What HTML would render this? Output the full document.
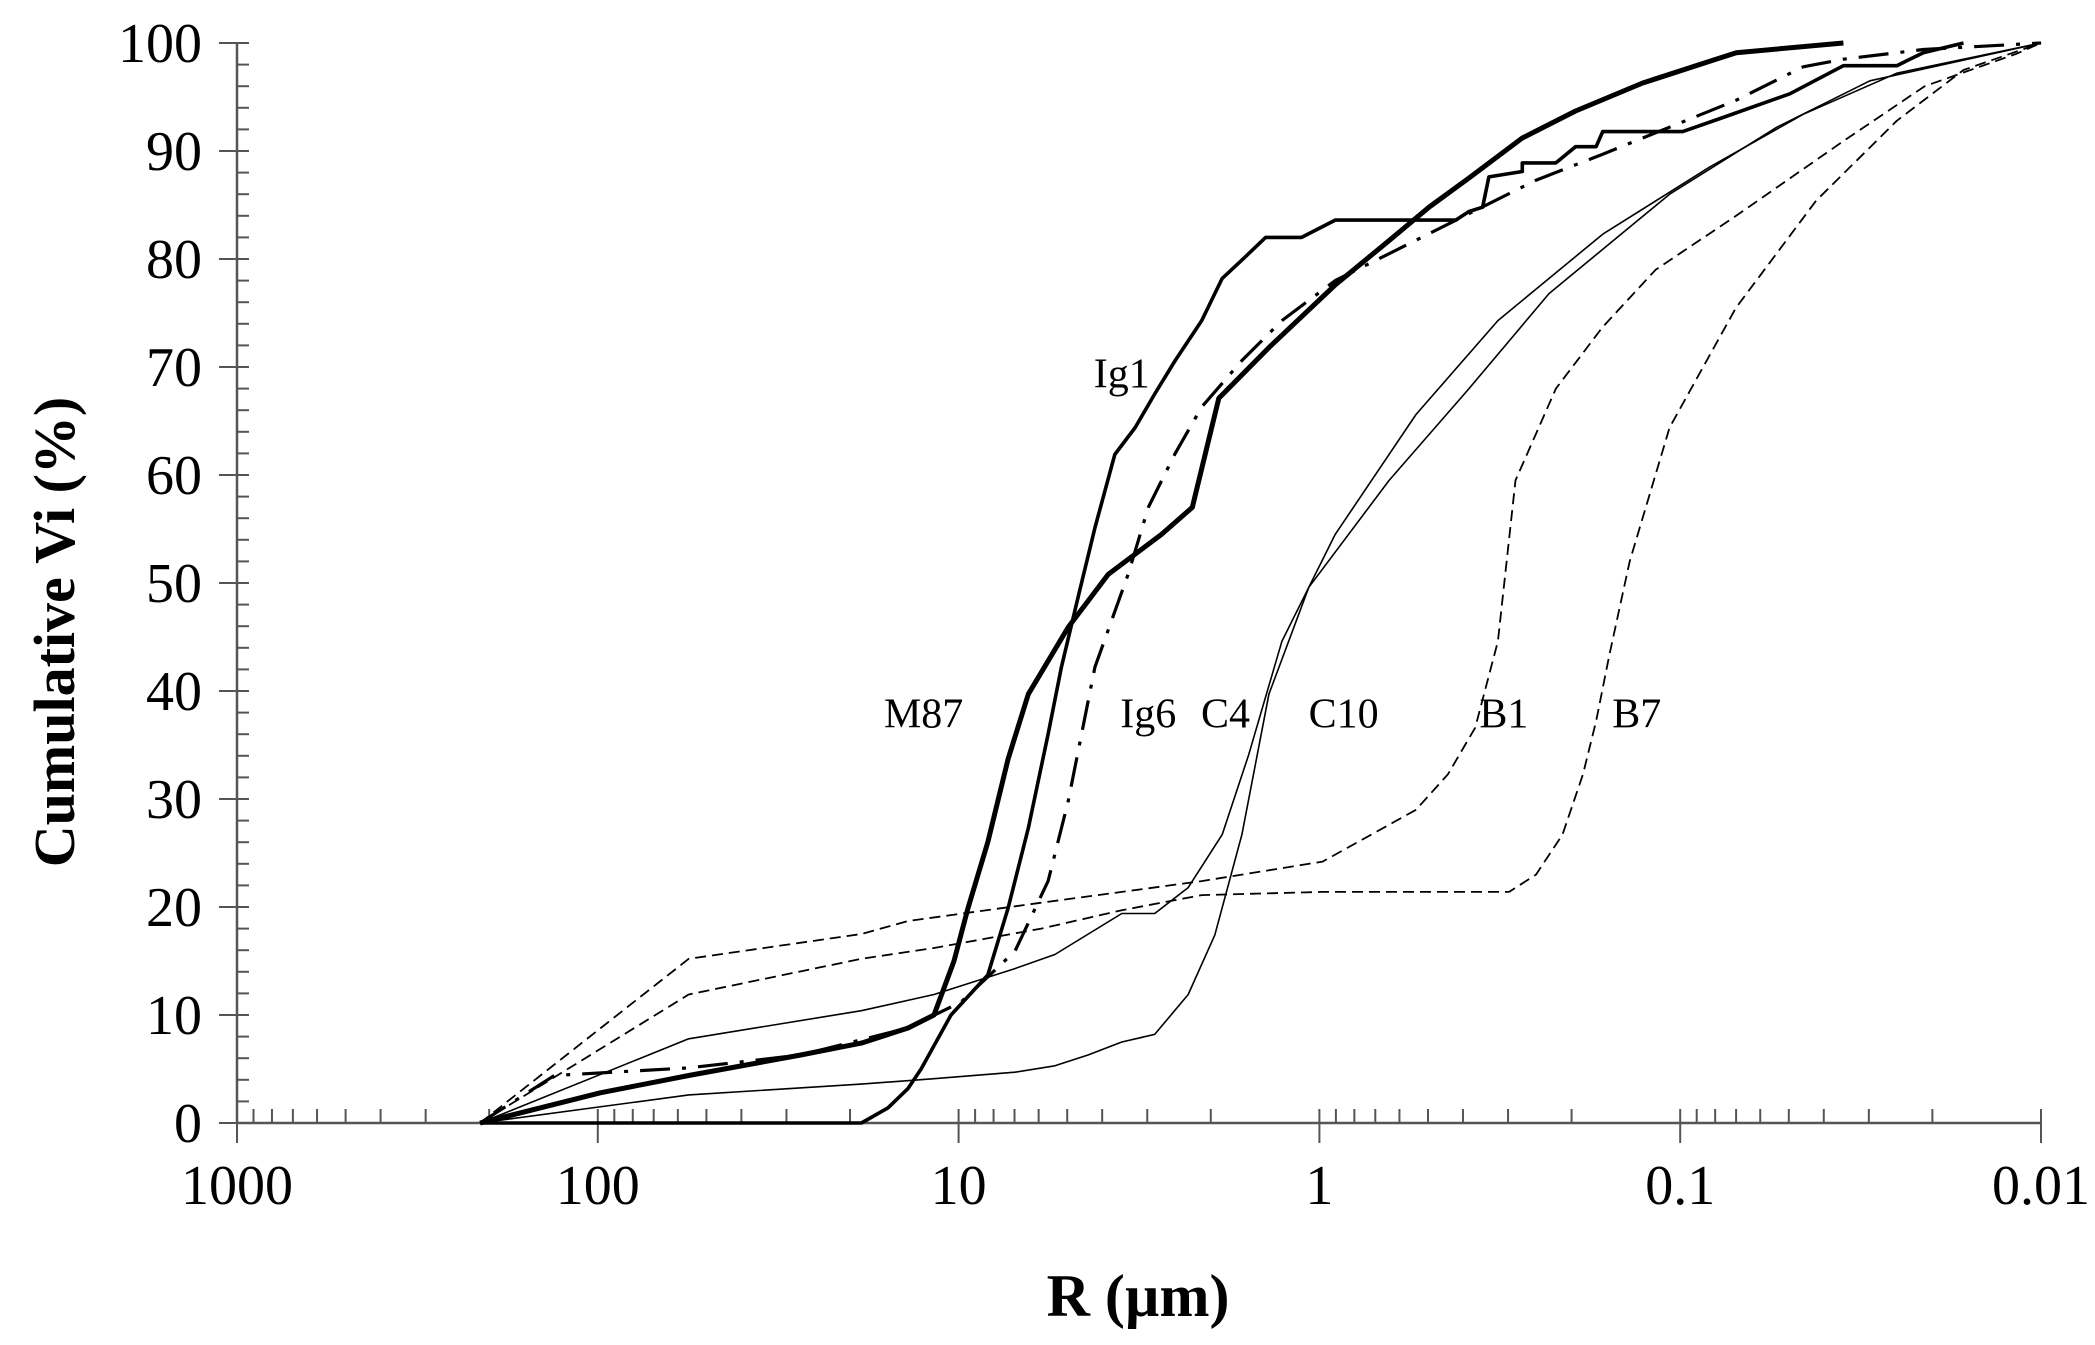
<!DOCTYPE html>
<html><head><meta charset="utf-8"><style>
html,body{margin:0;padding:0;background:#fff;}
svg{display:block;font-family:"Liberation Serif","DejaVu Serif",serif;}
</style></head><body>
<svg id="chart" width="2095" height="1345" viewBox="0 0 2095 1345" xmlns="http://www.w3.org/2000/svg">
<g id="axes"></g>
<g id="series"></g>
<g id="labels"></g>
<text x="1138" y="1316" font-size="60" font-weight="bold" text-anchor="middle">R (µm)</text>
<text transform="translate(74,632) rotate(-90)" font-size="58" font-weight="bold" text-anchor="middle">Cumulative Vi  (%)</text>
</svg>
<script>
const xTicks = [1000, 100, 10, 1, 0.1, 0.01];
const xTickLabels = ["1000", "100", "10", "1", "0.1", "0.01"];
const yTicks = [0, 10, 20, 30, 40, 50, 60, 70, 80, 90, 100];

const b1R = [212, 56, 18.6, 13.8, 5.9, 3.53, 2.12, 0.98, 0.54, 0.44, 0.37, 0.32, 0.286, 0.221, 0.164, 0.117, 0.070, 0.035, 0.021, 0.0117, 0.01];
const b1V = [0, 15.2, 17.5, 18.7, 20.4, 21.4, 22.4, 24.2, 29, 32.3, 36.6, 44.6, 59.5, 68, 73.7, 79, 84, 91, 96, 99, 100];

const b7R = [212, 56, 18.6, 11.7, 5.9, 3.53, 2.12, 0.98, 0.298, 0.251, 0.212, 0.186, 0.171, 0.157, 0.138, 0.107, 0.070, 0.042, 0.0251, 0.0164, 0.01];
const b7V = [0, 11.9, 15.2, 16.2, 18, 19.7, 21.1, 21.4, 21.4, 23, 26.7, 32.3, 37.2, 43.4, 52, 64.4, 75.5, 85.4, 92.8, 97.5, 100];

const c4R = [212, 56, 18.6, 11.7, 6.98, 5.41, 3.53, 2.86, 2.31, 1.86, 1.57, 1.27, 0.904, 0.54, 0.32, 0.164, 0.083, 0.0456, 0.0251, 0.01];
const c4V = [0, 7.8, 10.4, 11.9, 14.3, 15.6, 19.4, 19.4, 21.8, 26.7, 34.1, 44.6, 54.5, 65.6, 74.3, 82.3, 88.5, 93.4, 97.2, 100];

const c10R = [212, 56, 18.6, 11.7, 6.98, 5.41, 4.38, 3.53, 2.86, 2.31, 1.95, 1.64, 1.38, 1.07, 0.641, 0.385, 0.231, 0.107, 0.054, 0.0298, 0.01];
const c10V = [0, 2.6, 3.6, 4.1, 4.7, 5.3, 6.3, 7.5, 8.2, 11.9, 17.4, 26.7, 39.7, 49.6, 59.5, 68, 76.8, 86, 92.2, 96.5, 100];

const ig1R = [212, 18.6, 15.7, 13.8, 12.7, 10.5, 8.30, 7.29, 6.41, 5.65, 5.19, 4.64, 4.19, 3.69, 3.24, 2.86, 2.51, 2.12, 1.86, 1.64, 1.41, 1.12, 0.904, 0.419, 0.385, 0.353, 0.339, 0.274, 0.274, 0.221, 0.195, 0.171, 0.164, 0.0984, 0.0761, 0.0497, 0.0353, 0.0251, 0.0212, 0.0164];
const ig1V = [0, 0, 1.4, 3.2, 5, 10, 13.7, 19.9, 27.3, 36, 42.2, 49, 55.1, 61.9, 64.4, 67.5, 70.6, 74.3, 78.2, 79.9, 82, 82, 83.6, 83.6, 84.4, 84.8, 87.6, 88.1, 88.9, 88.9, 90.4, 90.4, 91.8, 91.8, 93.1, 95.3, 97.9, 97.9, 99.1, 100];

const m87R = [212, 98.4, 56, 27.4, 18.6, 13.8, 11.7, 10.3, 9.42, 8.30, 7.29, 6.41, 4.97, 3.85, 2.74, 2.25, 1.90, 1.38, 0.904, 0.641, 0.497, 0.385, 0.274, 0.195, 0.127, 0.083, 0.0699, 0.0353];
const m87V = [0, 2.8, 4.4, 6.3, 7.4, 8.8, 10, 15, 19.9, 26, 33.7, 39.7, 45.9, 50.8, 54.5, 57, 67.1, 71.8, 77.6, 81.7, 84.8, 87.5, 91.2, 93.7, 96.3, 98.3, 99.1, 100];

const ig6R = [212, 132, 56, 27.4, 13.8, 9.84, 6.98, 5.65, 4.97, 4.19, 3.39, 2.98, 2.51, 2.12, 1.64, 1.27, 0.904, 0.589, 0.385, 0.251, 0.164, 0.107, 0.0699, 0.0456, 0.0353, 0.0212, 0.01];
const ig6V = [0, 4.4, 5.1, 6.3, 8.8, 11.2, 15.9, 22.4, 29.8, 42.2, 50.8, 57, 62, 66.3, 70.6, 74.3, 78, 81.1, 84.2, 87.3, 89.7, 92.2, 94.7, 97.8, 98.5, 99.4, 100];

const seriesNames = ["B1", "B7", "C4", "C10", "Ig1", "M87", "Ig6"];
const labelR = [0.308, 0.132, 1.82, 0.857, 3.53, 12.5, 2.98];
const labelV = [36.6, 36.6, 36.6, 36.6, 68.1, 36.6, 36.6];

const NS = "http://www.w3.org/2000/svg";
const X0 = 237, DEC = 360.8, Y0 = 1123, YS = 10.8;
function xs(r){ return X0 + (3 - Math.log10(r)) * DEC; }
function ys(v){ return Y0 - v * YS; }
function mk(tag, attrs, parent){
  const e = document.createElementNS(NS, tag);
  for (const k in attrs) e.setAttribute(k, attrs[k]);
  parent.appendChild(e);
  return e;
}
const axes = document.getElementById("axes");
const xAxis = mk("line", {x1: xs(1000), y1: ys(0), x2: xs(0.01), y2: ys(0), stroke: "#555", "stroke-width": 2.5}, axes);


const yAxis = mk("line", {x1: X0, y1: ys(0), x2: X0, y2: ys(100), stroke: "#555", "stroke-width": 2.5}, axes);



for (let v = 0; v <= 100; v += 2) {
  const major = v % 10 === 0;
  const t = mk("line", {x1: major ? X0 - 18 : X0, y1: ys(v), x2: X0 + 12, y2: ys(v), stroke: "#555", "stroke-width": 2}, axes);
  
  
}
yTicks.forEach(v => {
  const t = mk("text", {x: 202, y: ys(v) + 19, "font-size": 56, "text-anchor": "end"}, axes);
  t.textContent = String(v);
  
  
});
for (let d = 0; d < 5; d++) {
  const base = xTicks[d + 1];
  for (let m = 2; m <= 9; m++) {
    const r = base * m;
    const t = mk("line", {x1: xs(r), y1: ys(0), x2: xs(r), y2: ys(0) - 14, stroke: "#555", "stroke-width": 2}, axes);
    
    
  }
}
xTicks.forEach((r, i) => {
  const t = mk("line", {x1: xs(r), y1: ys(0) - 14, x2: xs(r), y2: ys(0) + 20, stroke: "#555", "stroke-width": 2}, axes);
  
  
  const l = mk("text", {x: xs(r), y: 1204, "font-size": 56, "text-anchor": "middle"}, axes);
  l.textContent = xTickLabels[i];
  
  
});

const series = document.getElementById("series");
function draw(R, V, name, width, dash){
  const d = R.map((r, i) => (i ? "L" : "M") + xs(r).toFixed(1) + "," + ys(V[i]).toFixed(1)).join(" ");
  const p = mk("path", {d: d, fill: "none", stroke: "#000", "stroke-width": width, "stroke-linejoin": "round"}, series);
  if (dash) p.setAttribute("stroke-dasharray", dash);
  
  
}
draw(b1R, b1V, "line-b1", 1.8, "11 6");
draw(b7R, b7V, "line-b7", 1.8, "11 6");
draw(c4R, c4V, "line-c4", 1.6, null);
draw(c10R, c10V, "line-c10", 1.6, null);
draw(ig6R, ig6V, "line-ig6", 3.2, "30 12 4 12");
draw(ig1R, ig1V, "line-ig1", 3.6, null);
draw(m87R, m87V, "line-m87", 5, null);

const labels = document.getElementById("labels");
seriesNames.forEach((n, i) => {
  const t = mk("text", {x: xs(labelR[i]), y: ys(labelV[i]), "font-size": 42, "text-anchor": "middle", fill: "#000"}, labels);
  t.textContent = n;
  
  
});
</script>
</body></html>
